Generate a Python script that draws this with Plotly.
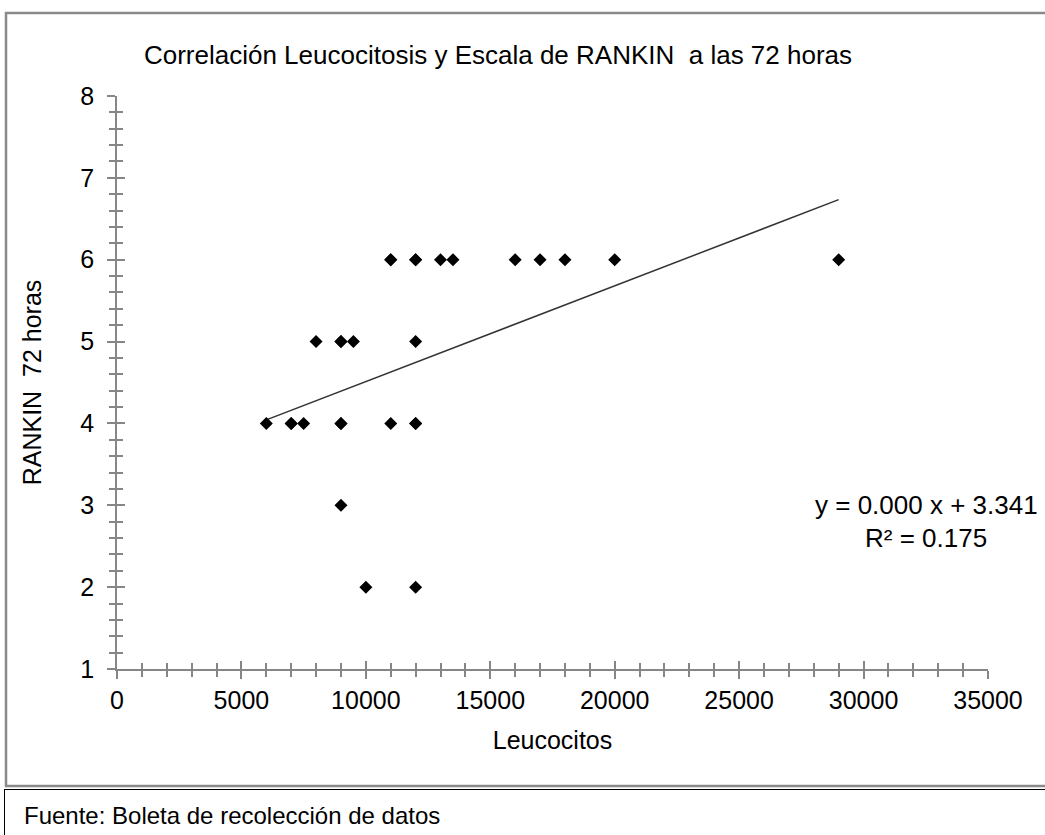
import plotly.graph_objects as go

# ---- data ----
leucocitos = [6000, 7000, 7000, 7500, 9000, 9000, 11000, 12000, 12000,
              8000, 9000, 9000, 9500, 12000,
              11000, 11000, 12000, 12000, 13000, 13500, 16000, 17000, 18000, 20000, 29000,
              9000,
              10000, 12000]
rankin_72h = [4, 4, 4, 4, 4, 4, 4, 4, 4,
              5, 5, 5, 5, 5,
              6, 6, 6, 6, 6, 6, 6, 6, 6, 6, 6,
              3,
              2, 2]
trend_slope = 0.000117
trend_intercept = 3.341
equation_line1 = "y = 0.000 x + 3.341"
equation_line2 = "R² = 0.175"
title_text = "Correlación Leucocitosis y Escala de RANKIN  a las 72 horas"
x_title = "Leucocitos"
y_title = "RANKIN  72 horas"
footer_text = "Fuente: Boleta de recolección de datos"

W, H = 1045, 835
L, R, T, B = 117, 988, 96, 669  # plot area in pixels
pw, ph = R - L, B - T

def px(xp):
    return (xp - L) / pw

def py(yp):
    return (B - yp) / ph

FONT = "Liberation Sans, Arial, sans-serif"
AX = "#868686"

fig = go.Figure()

tx = [min(leucocitos), max(leucocitos)]
ty = [trend_intercept + trend_slope * v for v in tx]
fig.add_trace(go.Scatter(x=tx, y=ty, mode="lines",
                         line=dict(color="#333333", width=1.5),
                         hoverinfo="skip", showlegend=False))
fig.add_trace(go.Scatter(x=leucocitos, y=rankin_72h, mode="markers",
                         marker=dict(symbol="diamond", size=10, color="black"),
                         showlegend=False))
# invisible trace for the overlay axes (inside half of crossing ticks)
fig.add_trace(go.Scatter(x=[None], y=[None], xaxis="x2", yaxis="y2",
                         showlegend=False, hoverinfo="skip"))

common_tick = dict(tickcolor=AX, tickwidth=1.5)

fig.update_layout(
    width=W, height=H,
    margin=dict(l=L, r=W - R, t=T, b=H - B, pad=0),
    paper_bgcolor="white", plot_bgcolor="white",
    font=dict(family=FONT, size=25, color="black"),
    title=dict(text=title_text, x=498 / W, xanchor="center",
               y=(H - 55) / H, yanchor="middle",
               font=dict(family=FONT, size=26, color="black")),
    xaxis=dict(range=[0, 35000], dtick=5000, tick0=0, tickformat="d",
               showgrid=False, zeroline=False,
               showline=True, linecolor=AX, linewidth=1.5,
               ticks="outside", ticklen=8, **common_tick,
               minor=dict(dtick=1000, ticks="outside", ticklen=6,
                          tickcolor=AX, tickwidth=1.5, showgrid=False),
               tickfont=dict(family=FONT, size=25, color="black"),
               title=dict(text=x_title, standoff=19,
                          font=dict(family=FONT, size=25, color="black"))),
    yaxis=dict(range=[1, 8], dtick=1, tick0=1,
               showgrid=False, zeroline=False,
               showline=True, linecolor=AX, linewidth=1.5,
               ticks="outside", ticklen=8, **common_tick,
               ticklabelstandoff=8,
               minor=dict(dtick=0.2, ticks="outside", ticklen=6,
                          tickcolor=AX, tickwidth=1.5, showgrid=False),
               tickfont=dict(family=FONT, size=25, color="black"),
               title=dict(text=y_title, standoff=32,
                          font=dict(family=FONT, size=25, color="black"))),
    xaxis2=dict(range=[0, 35000], dtick=5000, tick0=0, overlaying="x",
                anchor="y", side="bottom",
                showgrid=False, zeroline=False, showline=False,
                showticklabels=False,
                ticks="inside", ticklen=8, **common_tick,
                minor=dict(dtick=1000, ticks="inside", ticklen=6,
                           tickcolor=AX, tickwidth=1.5, showgrid=False)),
    yaxis2=dict(range=[1, 8], dtick=1, tick0=1, overlaying="y",
                anchor="x", side="left",
                showgrid=False, zeroline=False, showline=False,
                showticklabels=False,
                ticks="inside", ticklen=8, **common_tick,
                minor=dict(dtick=0.2, ticks="inside", ticklen=6,
                           tickcolor=AX, tickwidth=1.5, showgrid=False)),
    showlegend=False,
)

# regression equation (two lines)
fig.add_annotation(text=equation_line1, xref="paper", yref="paper",
                   x=px(926), y=py(505), xanchor="center", yanchor="middle",
                   showarrow=False,
                   font=dict(family=FONT, size=26, color="black"))
fig.add_annotation(text=equation_line2, xref="paper", yref="paper",
                   x=px(926), y=py(538), xanchor="center", yanchor="middle",
                   showarrow=False,
                   font=dict(family=FONT, size=26, color="black"))

# footer source note
fig.add_annotation(text=footer_text, xref="paper", yref="paper",
                   x=px(22), y=py(815), xanchor="left", yanchor="middle",
                   showarrow=False,
                   font=dict(family=FONT, size=24, color="black"))

# chart frame (gray) and footer frame (black)
fig.add_shape(type="rect", xref="paper", yref="paper",
              x0=px(6), x1=px(1060), y0=py(786), y1=py(13),
              line=dict(color="#8a8a8a", width=2.5), layer="below")
fig.add_shape(type="line", xref="paper", yref="paper",
              x0=px(4), x1=px(1060), y0=py(789.5), y1=py(789.5),
              line=dict(color="black", width=1))
fig.add_shape(type="line", xref="paper", yref="paper",
              x0=px(4.5), x1=px(4.5), y0=py(789.5), y1=py(840),
              line=dict(color="black", width=1))

# remove the default page margin so the figure fills the window exactly
fig.write_html("out.html",
               config={"displayModeBar": False},
               post_script="document.body.style.margin='0';"
                           "document.body.style.overflow='hidden';")
